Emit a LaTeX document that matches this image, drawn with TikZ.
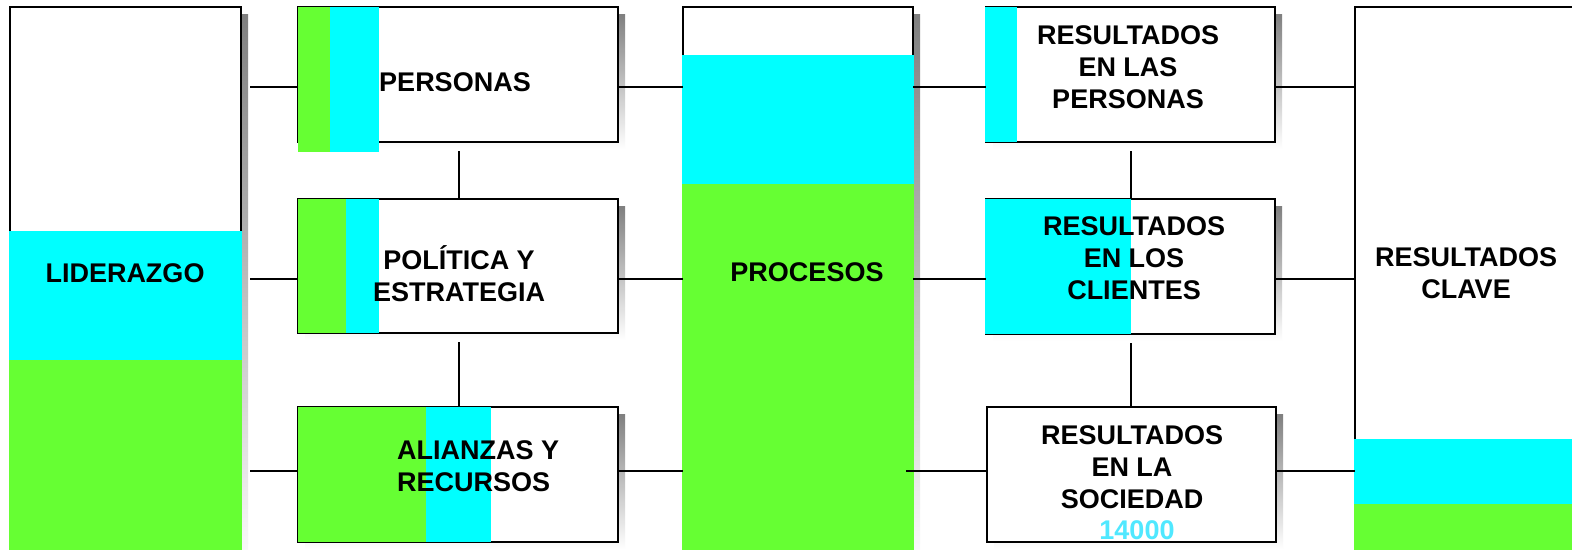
\documentclass[tikz,border=0pt]{standalone}
\usepackage{fontspec}
\setmainfont{Liberation Sans}
\definecolor{leaf}{RGB}{102,255,51}
\definecolor{aqua}{RGB}{0,255,255}
\definecolor{paleaqua}{RGB}{80,232,255}
\definecolor{shade}{RGB}{128,128,128}
\tikzset{
  panel/.style={draw=black, fill=white, line width=1.7pt, rectangle, inner sep=0pt, outer sep=0pt},
  conn/.style={draw=black, line width=1.5pt},
  lbl/.style={font=\fontsize{27}{32}\selectfont\bfseries, align=center, inner sep=0pt},
}
% a panel with its drop shadow: name, top-left corner, bottom-right corner
\newcommand{\panelbox}[3]{%
  \fill[shade] ($#2+(7,7)$) rectangle ($#3+(7,7)$);
  \path ($#2$) coordinate (#1-nw) ($#3$) coordinate (#1-se);
  \node[panel, fit=(#1-nw)(#1-se)] (#1) {};
}
\usetikzlibrary{calc,fit}
\begin{document}
\begin{tikzpicture}[x=1pt,y=-1pt]
\useasboundingbox (0,0) rectangle (1572,549);
\clip (0,0) rectangle (1572,549);
\fill[white] (0,0) rectangle (1572,549);

% panels
\panelbox{lid}{(10,7)}{(241,570)}
\panelbox{per}{(298,7)}{(618,142)}
\panelbox{pol}{(298,199)}{(618,333)}
\panelbox{ali}{(298,407)}{(618,542)}
\panelbox{pro}{(683,7)}{(913,570)}
\panelbox{rper}{(986,7)}{(1275,142)}
\panelbox{rcli}{(986,199)}{(1275,334)}
\panelbox{rsoc}{(987,407)}{(1276,542)}
\panelbox{cla}{(1355,7)}{(1600,570)}

% colour bands
\fill[aqua] (9,231) rectangle (242,360);
\fill[leaf] (9,360) rectangle (242,570);
\fill[leaf] (298,7) rectangle (330,152);
\fill[aqua] (330,7) rectangle (379,152);
\fill[leaf] (298,199) rectangle (346,333);
\fill[aqua] (346,199) rectangle (379,333);
\fill[leaf] (298,407) rectangle (426,542);
\fill[aqua] (426,407) rectangle (491,542);
\fill[aqua] (682,55) rectangle (914,184);
\fill[leaf] (682,184) rectangle (914,570);
\fill[aqua] (985,7) rectangle (1017,142);
\fill[aqua] (985,199) rectangle (1131,334);
\fill[aqua] (1354,439) rectangle (1600,504);
\fill[leaf] (1354,504) rectangle (1600,570);

% labels
\node[lbl] (tlid) at (125,273) {LIDERAZGO};
\node[lbl] (tper) at (455,82) {PERSONAS};
\node[lbl] (tpol) at (459,274) {POLÍTICA Y\\ESTRATEGIA};
\node[lbl, align=left, anchor=west] (tali) at (397,466) {ALIANZAS Y\\RECURSOS};
\node[lbl] (tpro) at (807,272) {PROCESOS};
\node[lbl] (trper) at (1128,67) {RESULTADOS\\EN LAS\\PERSONAS};
\node[lbl] (trcli) at (1134,258) {RESULTADOS\\EN LOS\\CLIENTES};
\node[lbl] (trsoc) at (1132,467) {RESULTADOS\\EN LA\\SOCIEDAD};
\node[lbl, text=paleaqua] (tnum) at (1137,530) {14000};
\node[lbl] (tcla) at (1466,273) {RESULTADOS\\CLAVE};

% rows and columns of the connectors
\coordinate (r1) at (0,87);
\coordinate (r2) at (0,279);
\coordinate (r3) at (0,471);
\coordinate (cl) at (459,0);
\coordinate (cr) at (1131,0);

% connectors
\draw[conn, shorten <=9pt] (lid.east |- r1) -- (per.west |- r1);
\draw[conn, shorten <=9pt] (lid.east |- r2) -- (pol.west |- r2);
\draw[conn, shorten <=9pt] (lid.east |- r3) -- (ali.west |- r3);
\draw[conn, shorten <=9pt] (per.south -| cl) -- (pol.north -| cl);
\draw[conn, shorten <=9pt] (pol.south -| cl) -- (ali.north -| cl);
\draw[conn] (per.east |- r1) -- (pro.west |- r1);
\draw[conn] (pol.east |- r2) -- (pro.west |- r2);
\draw[conn] (ali.east |- r3) -- (pro.west |- r3);
\draw[conn] (pro.east |- r1) -- (rper.west |- r1);
\draw[conn] (pro.east |- r2) -- (rcli.west |- r2);
\draw[conn, shorten <=-7pt] (pro.east |- r3) -- (rsoc.west |- r3);
\draw[conn, shorten <=9pt] (rper.south -| cr) -- (rcli.north -| cr);
\draw[conn, shorten <=9pt] (rcli.south -| cr) -- (rsoc.north -| cr);
\draw[conn] (rper.east |- r1) -- (cla.west |- r1);
\draw[conn] (rcli.east |- r2) -- (cla.west |- r2);
\draw[conn] (rsoc.east |- r3) -- (cla.west |- r3);
\end{tikzpicture}
\end{document}
